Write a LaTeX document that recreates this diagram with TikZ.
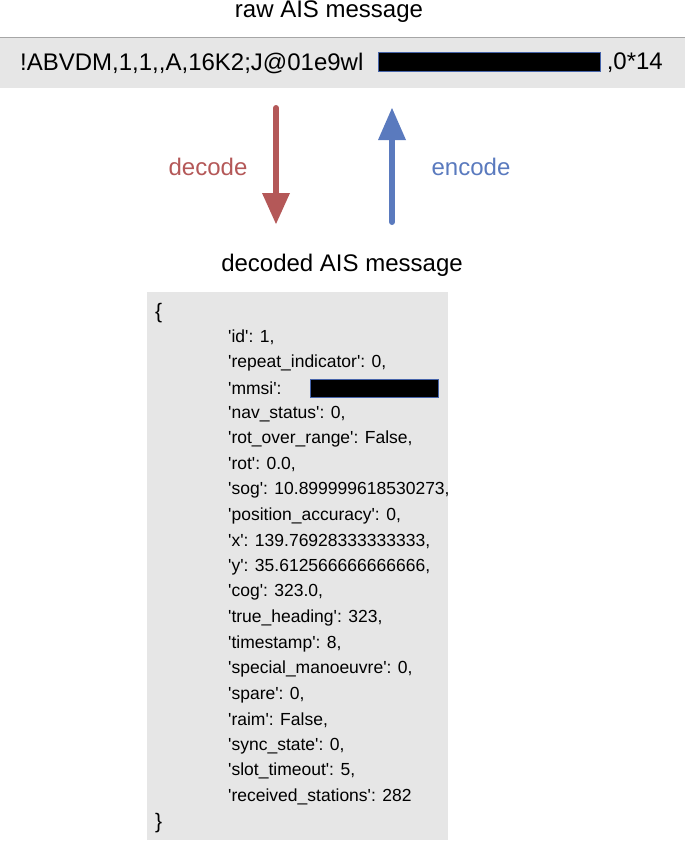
\documentclass[tikz,border=0pt]{standalone}
\usepackage{fontspec}
\setmainfont{Liberation Sans}[Ligatures=TeXOff]
\begin{document}
\def\q{\char39\relax}
\begin{tikzpicture}[x=1pt,y=-1pt,
  lbl/.style={font=\fontsize{24}{26}\selectfont,inner sep=0pt},
  ent/.style={font=\fontsize{17.5}{19}\selectfont,anchor=west,inner sep=0pt},
  brc/.style={font=\fontsize{21}{23}\selectfont,anchor=west,inner sep=0pt},
  redact/.style={fill=black,draw={rgb,255:red,70;green,100;blue,170},line width=1pt}]
\useasboundingbox (0,0) rectangle (685,851);
\definecolor{boxgray}{RGB}{230,230,230}
\definecolor{dred}{RGB}{180,88,88}
\definecolor{dblue}{RGB}{90,122,190}
\node[lbl] (raw) at (329,12) {raw AIS message};
\fill[boxgray] (0,38) rectangle (685,88);
\draw[gray!70,line width=1pt] (0,38) -- (685,38);
\node[lbl,anchor=west] (msg) at (20,63) {!ABVDM,1,1,,A,16K2;J@01e9wl};
\node[lbl,anchor=east] (tail) at (663,63) {,0*14};
\draw[redact] (378,53) rectangle (600,72);
\coordinate (d1) at (276,108); \coordinate (d2) at (276,224);
\coordinate (e1) at (392,222); \coordinate (e2) at (392,108);
\draw[dred,line width=6pt,line cap=round] (d1) -- (276,195);
\fill[dred] (262,193) -- (290,193) -- (d2) -- cycle;
\draw[dblue,line width=6pt,line cap=round] (e1) -- (392,138);
\fill[dblue] (378,140) -- (406,140) -- (e2) -- cycle;
\node[lbl,text=dred] (dec) at (208,167) {decode};
\node[lbl,text=dblue] (enc) at (471,167) {encode};
\node[lbl] (dtitle) at (342,265) {decoded AIS message};
\fill[boxgray] (147,292) rectangle (448,840);
\node[brc] (ob) at (155,313) {\{};
\foreach \t [count=\i from 0] in {%
 {\q id\q: 1,}, {\q repeat\_indicator\q: 0,}, {\q mmsi\q: }, {\q nav\_status\q: 0,},
 {\q rot\_over\_range\q: False,}, {\q rot\q: 0.0,}, {\q sog\q: 10.899999618530273,},
 {\q position\_accuracy\q: 0,}, {\q x\q: 139.76928333333333,}, {\q y\q: 35.612566666666666,},
 {\q cog\q: 323.0,}, {\q true\_heading\q: 323,}, {\q timestamp\q: 8,},
 {\q special\_manoeuvre\q: 0,}, {\q spare\q: 0,}, {\q raim\q: False,},
 {\q sync\_state\q: 0,}, {\q slot\_timeout\q: 5,}, {\q received\_stations\q: 282}}
 \node[ent] (l\i) at (228,{337+25.55*\i}) {\t};
\draw[redact] (310,379) rectangle (438,397);
\node[brc] (cb) at (155,823) {\}};
\end{tikzpicture}
\end{document}
